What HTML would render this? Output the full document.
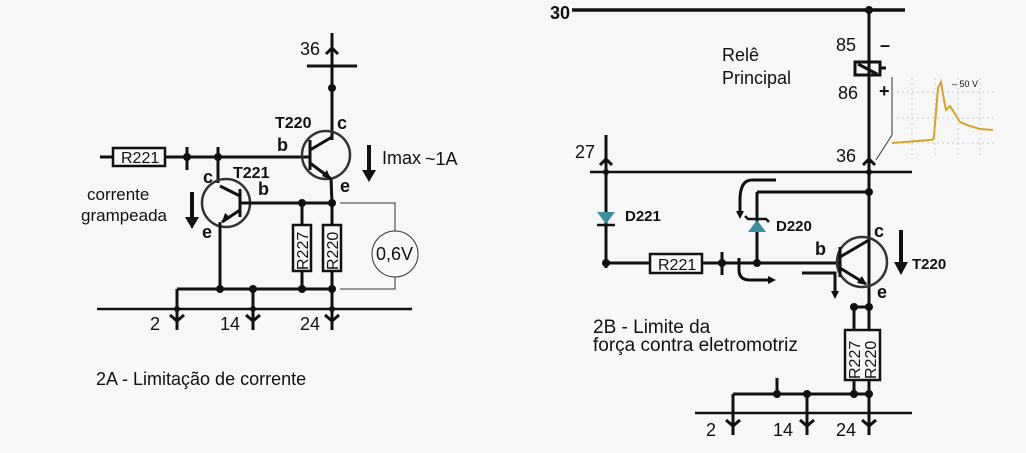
<!DOCTYPE html>
<html><head><meta charset="utf-8"><style>
html,body{margin:0;padding:0;background:#f7f7f7;}
svg{display:block}
text{font-family:"Liberation Sans",sans-serif;fill:#111}
</style></head><body>
<svg width="1026" height="453" viewBox="0 0 1026 453">
<rect width="1026" height="453" fill="#f7f7f7"/>
<defs>
<marker id="ah" markerWidth="8" markerHeight="8" refX="4" refY="4" orient="auto" markerUnits="userSpaceOnUse"><path d="M0,0 L8,4 L0,8 z" fill="#111"/></marker>
</defs>
<g stroke="#111" stroke-width="3" fill="none">
<line x1="332" y1="33" x2="332" y2="140"/>
<line x1="307" y1="66" x2="357" y2="66"/>
<line x1="100" y1="157" x2="113" y2="157"/>
<line x1="165" y1="157" x2="310" y2="157"/>
<line x1="187" y1="147" x2="187" y2="170"/>
<line x1="218" y1="147" x2="218" y2="183"/>
<circle cx="326" cy="155" r="24" stroke-width="2.5" stroke="#333"/>
<line x1="310" y1="140" x2="310" y2="170"/>
<line x1="310" y1="150" x2="332" y2="137"/>
<line x1="310" y1="163" x2="330" y2="178"/>
<line x1="331" y1="178" x2="332" y2="203"/>
<rect x="113" y="148" width="52" height="18" stroke-width="2.5"/>
<circle cx="226" cy="203" r="24" stroke-width="2.5" stroke="#333"/>
<line x1="240" y1="189" x2="240" y2="217"/>
<line x1="240" y1="203" x2="332" y2="203"/>
<line x1="240" y1="196" x2="220" y2="186"/>
<line x1="240" y1="210" x2="222" y2="222"/>
<line x1="220" y1="222" x2="220" y2="289"/>
<line x1="302" y1="203" x2="302" y2="289"/>
<line x1="332" y1="203" x2="332" y2="330"/>
<rect x="293" y="225" width="18" height="46" stroke-width="2.5" fill="#f7f7f7"/>
<rect x="323" y="225" width="18" height="46" stroke-width="2.5" fill="#f7f7f7"/>
<line x1="177" y1="289" x2="335" y2="289"/>
<line x1="177" y1="289" x2="177" y2="330"/>
<line x1="253" y1="289" x2="253" y2="330"/>
<line x1="97" y1="309" x2="412" y2="309" stroke-width="2.5"/>
<line x1="572" y1="10" x2="905" y2="10" stroke-width="3.5"/>
<line x1="869" y1="8" x2="869" y2="390"/>
<line x1="590" y1="172" x2="912" y2="172" stroke-width="2.5"/>
<line x1="606" y1="135" x2="606" y2="268"/>
<line x1="606" y1="263" x2="650" y2="263"/>
<line x1="702" y1="263" x2="840" y2="263"/>
<rect x="650" y="254" width="52" height="19" stroke-width="2.5"/>
<line x1="722" y1="252" x2="722" y2="275"/>
<line x1="757" y1="192" x2="869" y2="192"/>
<line x1="757" y1="192" x2="757" y2="263"/>
<circle cx="862" cy="262" r="25" stroke-width="2.5" stroke="#333"/>
<line x1="840" y1="247" x2="840" y2="277"/>
<line x1="840" y1="257" x2="869" y2="240"/>
<line x1="840" y1="268" x2="866" y2="284"/>
<line x1="854" y1="307" x2="869" y2="307"/>
<line x1="854" y1="307" x2="854" y2="394"/>
<rect x="845" y="330" width="35" height="50" stroke-width="2.5" fill="#f7f7f7"/>
<line x1="733" y1="394" x2="872" y2="394"/>
<line x1="733" y1="394" x2="733" y2="435"/>
<line x1="807" y1="394" x2="807" y2="435"/>
<line x1="869" y1="390" x2="869" y2="435"/>
<line x1="777" y1="378" x2="777" y2="394"/>
<line x1="695" y1="413" x2="912" y2="413" stroke-width="2.5"/>
<rect x="855" y="62" width="25" height="13" stroke-width="3"/>
<line x1="858" y1="64" x2="877" y2="74"/>
<line x1="880" y1="68" x2="886" y2="68"/>
<path d="M776,180 L752,180 Q740,180 740,200 L740,215" marker-end="url(#ah)"/>
<path d="M739,258 L739,270 Q739,280 750,280 L772,280" marker-end="url(#ah)"/>
<path d="M802,273 L835,273 L835,295" marker-end="url(#ah)"/>
</g>
<g stroke="#111" stroke-width="3" fill="none">
<path d="M170,315 L177,321 L184,315"/><path d="M246,315 L253,321 L260,315"/><path d="M325,315 L332,321 L339,315"/>
<path d="M726,420 L733,426 L740,420"/><path d="M800,420 L807,426 L814,420"/><path d="M862,420 L869,426 L876,420"/>
<path d="M326,54 L332,48 L338,54"/>
<path d="M600,165 L606,159 L612,165"/><path d="M863,165 L869,159 L875,165"/>
</g>
<g fill="#111">
<circle cx="332" cy="88" r="4"/><circle cx="187" cy="157" r="4"/><circle cx="218" cy="157" r="4"/>
<circle cx="302" cy="203" r="4"/><circle cx="332" cy="203" r="4"/>
<circle cx="220" cy="289" r="4"/><circle cx="253" cy="289" r="4"/><circle cx="302" cy="289" r="4"/><circle cx="332" cy="289" r="4"/>
<circle cx="177" cy="309" r="3"/><circle cx="253" cy="309" r="3"/><circle cx="332" cy="309" r="3"/>
<circle cx="869" cy="10" r="4"/><circle cx="869" cy="192" r="4"/><circle cx="606" cy="263" r="4"/>
<circle cx="722" cy="263" r="4"/><circle cx="757" cy="263" r="4"/>
<circle cx="854" cy="307" r="4"/><circle cx="869" cy="307" r="4"/>
<circle cx="777" cy="394" r="4"/><circle cx="807" cy="394" r="4"/><circle cx="854" cy="394" r="4"/><circle cx="869" cy="394" r="4"/>
<circle cx="606" cy="172" r="3"/><circle cx="869" cy="172" r="3"/>
<path d="M331,180 L322,176 L327,170 z"/><path d="M222,222 L225,213 L231,218 z"/>
<path d="M867,285 L857,283 L862,276 z"/>
<path d="M367,145 L371,145 L371,170 L376,170 L369,182 L362,170 L367,170z"/>
<path d="M190,192 L194,192 L194,217 L199,217 L192,229 L185,217 L190,217z"/>
<path d="M899,230 L903,230 L903,262 L908,262 L901,275 L894,262 L899,262z"/>
<path d="M597,212 L615,212 L606,224z" fill="#3a8fa0"/>
<path d="M748,232 L766,232 L757,220z" fill="#3a8fa0"/>
</g>
<g stroke="#111" stroke-width="2.5" fill="none">
<line x1="597" y1="225" x2="615" y2="225"/><path d="M745,216 L748,219 L766,219 L769,222"/>
</g>
<g stroke="#333" stroke-width="1" fill="none">
<circle cx="395" cy="254" r="23"/>
<path d="M340,203 L395,203 L395,231"/><path d="M340,289 L395,289 L395,277"/>
<line x1="892" y1="77" x2="892" y2="135"/><path d="M892,135 L876,160"/>
</g>
<g stroke="#ccc" stroke-width="1" stroke-dasharray="2,3">
<line x1="892" y1="92" x2="995" y2="92"/><line x1="892" y1="118" x2="995" y2="118"/><line x1="892" y1="143" x2="995" y2="143"/>
<line x1="912" y1="78" x2="912" y2="155"/><line x1="935" y1="78" x2="935" y2="155"/><line x1="958" y1="78" x2="958" y2="155"/><line x1="980" y1="78" x2="980" y2="155"/>
</g>
<path d="M892,143 L930,140 Q934,140 934,136 L938,88 L941,82 L944,100 L946,110 L950,106 L960,122 L970,126 L980,129 L993,130" stroke="#d8a22a" stroke-width="2" fill="none"/>
<text x="952" y="87" font-size="9">– 50 V</text>
<g font-size="18">
<text x="300" y="55">36</text>
<text x="121" y="163" font-size="16">R221</text>
<text x="275" y="128" font-weight="bold" font-size="16">T220</text>
<text x="277" y="151" font-weight="bold">b</text>
<text x="337" y="129" font-weight="bold">c</text>
<text x="340" y="192" font-weight="bold">e</text>
<text x="382" y="164">Imax</text>
<text x="425" y="165" font-family="Liberation Serif" font-size="18">~1A</text>
<text x="203" y="183" font-weight="bold">c</text>
<text x="233" y="178" font-weight="bold" font-size="16">T221</text>
<text x="258" y="195" font-weight="bold">b</text>
<text x="202" y="238" font-weight="bold">e</text>
<text x="87" y="200" font-size="17">corrente</text>
<text x="81" y="221" font-size="17">grampeada</text>
<text x="376" y="260" font-size="18">0,6V</text>
<text x="150" y="330">2</text><text x="220" y="330">14</text><text x="300" y="330">24</text>
<text x="96" y="385" font-size="18">2A - Limitação de corrente</text>
</g>
<text transform="translate(308,270) rotate(-90)" font-size="16">R227</text>
<text transform="translate(338,270) rotate(-90)" font-size="16">R220</text>
<g font-size="18">
<text x="550" y="19" font-weight="bold">30</text>
<text x="722" y="61">Relê</text>
<text x="722" y="84">Principal</text>
<text x="836" y="51">85</text><text x="838" y="99">86</text>
<text x="880" y="51" font-weight="bold">–</text><text x="879" y="97" font-weight="bold">+</text>
<text x="575" y="158">27</text><text x="836" y="162">36</text>
<text x="625" y="221" font-size="15" font-weight="bold">D221</text>
<text x="776" y="231" font-size="15" font-weight="bold">D220</text>
<text x="658" y="270" font-size="16">R221</text>
<text x="815" y="255" font-weight="bold">b</text>
<text x="874" y="237" font-weight="bold">c</text>
<text x="877" y="298" font-weight="bold">e</text>
<text x="912" y="269" font-size="15" font-weight="bold">T220</text>
<text x="593" y="333" font-size="19">2B - Limite da</text>
<text x="593" y="351" font-size="19">força contra eletromotriz</text>
<text x="706" y="436">2</text><text x="773" y="436">14</text><text x="836" y="436">24</text>
</g>
<text transform="translate(860,379) rotate(-90)" font-size="16">R227</text>
<text transform="translate(876,379) rotate(-90)" font-size="16">R220</text>
</svg>
</body></html>
